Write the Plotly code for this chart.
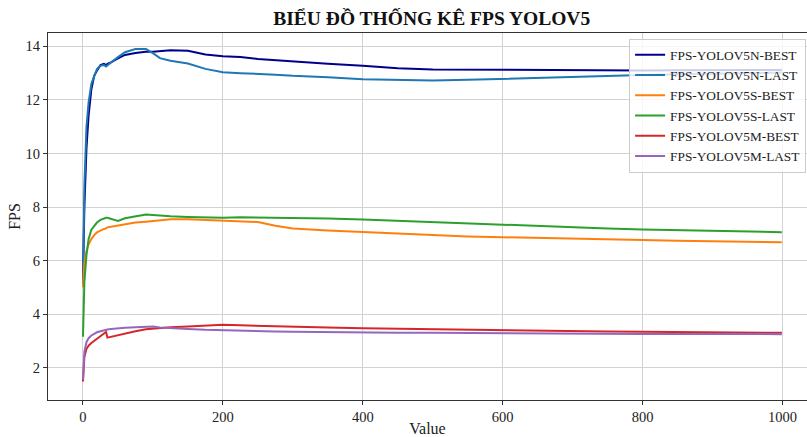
import plotly.graph_objects as go

# Frame index at which each running FPS value was recorded
frames = [0, 2, 5, 8, 12, 16, 20, 25, 30, 33, 35, 40, 50, 60, 75, 90, 100, 110, 125, 150,
          175, 200, 225, 250, 275, 300, 350, 400, 450, 500, 550, 600, 650, 700, 750, 800,
          850, 900, 950, 999]

fps_n_best = [5.3, 8.0, 10.2, 11.4, 12.4, 12.9, 13.1, 13.3, 13.35, 13.3, 13.35, 13.4, 13.55,
              13.68, 13.75, 13.8, 13.8, 13.83, 13.86, 13.84, 13.7, 13.63, 13.6, 13.53, 13.48,
              13.43, 13.35, 13.28, 13.18, 13.14, 13.13, 13.13, 13.12, 13.11, 13.1, 13.1,
              13.11, 13.12, 13.12, 13.12]
fps_n_last = [5.1, 8.8, 11.0, 11.9, 12.6, 12.9, 13.15, 13.28, 13.3, 13.25, 13.3, 13.4, 13.6,
              13.78, 13.9, 13.9, 13.75, 13.56, 13.46, 13.36, 13.16, 13.03, 13.0, 12.98, 12.94,
              12.9, 12.85, 12.77, 12.74, 12.73, 12.75, 12.79, 12.82, 12.87, 12.9, 12.93,
              12.96, 12.98, 13.0, 13.02]
fps_s_best = [5.0, 5.9, 6.35, 6.6, 6.8, 6.95, 7.05, 7.12, 7.18, 7.2, 7.24, 7.26, 7.3, 7.35,
              7.42, 7.45, 7.48, 7.52, 7.54, 7.54, 7.52, 7.5, 7.48, 7.44, 7.3, 7.2, 7.12, 7.06,
              7.0, 6.94, 6.9, 6.87, 6.85, 6.82, 6.8, 6.77, 6.74, 6.72, 6.7, 6.68]
fps_s_last = [3.15, 5.2, 6.2, 6.8, 7.15, 7.3, 7.42, 7.52, 7.58, 7.6, 7.6, 7.55, 7.48, 7.58,
              7.66, 7.72, 7.7, 7.68, 7.65, 7.63, 7.62, 7.6, 7.62, 7.61, 7.6, 7.6, 7.57, 7.53,
              7.48, 7.44, 7.38, 7.33, 7.28, 7.23, 7.2, 7.16, 7.13, 7.1, 7.08, 7.06]
fps_m_best = [1.48, 2.4, 2.7, 2.82, 2.92, 3.0, 3.05, 3.15, 3.25, 3.33, 3.12, 3.15, 3.22, 3.28,
              3.36, 3.43, 3.46, 3.48, 3.51, 3.54, 3.58, 3.6, 3.58, 3.56, 3.54, 3.52, 3.5, 3.47,
              3.45, 3.43, 3.41, 3.39, 3.38, 3.36, 3.35, 3.34, 3.33, 3.32, 3.31, 3.3]
fps_m_last = [1.55, 2.6, 2.95, 3.1, 3.2, 3.27, 3.32, 3.36, 3.4, 3.42, 3.42, 3.44, 3.47, 3.49,
              3.51, 3.53, 3.54, 3.5, 3.47, 3.44, 3.41, 3.39, 3.37, 3.36, 3.35, 3.34, 3.32,
              3.31, 3.3, 3.3, 3.29, 3.28, 3.28, 3.27, 3.27, 3.26, 3.26, 3.25, 3.25, 3.25]

series_names = ["FPS-YOLOV5N-BEST", "FPS-YOLOV5N-LAST", "FPS-YOLOV5S-BEST",
                "FPS-YOLOV5S-LAST", "FPS-YOLOV5M-BEST", "FPS-YOLOV5M-LAST"]
series_values = [fps_n_best, fps_n_last, fps_s_best, fps_s_last, fps_m_best, fps_m_last]
series_colors = ["#00008b", "#1f77b4", "#ff7f0e", "#2ca02c", "#d62728", "#9467bd"]

x_ticks = [0, 200, 400, 600, 800, 1000]
y_ticks = [2, 4, 6, 8, 10, 12, 14]

FONT = "Liberation Serif, Times New Roman, serif"

fig = go.Figure()
for name, vals, col in zip(series_names, series_values, series_colors):
    fig.add_trace(go.Scatter(x=frames, y=vals, mode="lines", name=name,
                             line=dict(color=col, width=2)))

axis_common = dict(
    showgrid=True, gridcolor="#d3d3d3", gridwidth=1,
    zeroline=False, showline=True, linecolor="#333333", linewidth=1,
    ticks="outside", ticklen=4, tickcolor="#333333",
    tickfont=dict(family=FONT, size=14.5, color="#222222"),
)

fig.update_layout(
    width=807, height=437,
    margin=dict(l=48, r=0, t=33, b=37, autoexpand=False),
    paper_bgcolor="white", plot_bgcolor="white",
    font=dict(family=FONT, color="#222222"),
    title=dict(text="<b>BIỂU ĐỒ THỐNG KÊ FPS YOLOV5</b>",
               font=dict(family=FONT, size=19.5, color="#111111"),
               x=0.535, xanchor="center", y=1 - 18 / 437, yanchor="middle",
               xref="container", yref="container"),
    xaxis=dict(range=[-50, 1035], tickvals=x_ticks, mirror=True,
               title=dict(text="Value", font=dict(family=FONT, size=16), standoff=2),
               **axis_common),
    yaxis=dict(range=[0.79, 14.5], tickvals=y_ticks, mirror=False,
               title=dict(text="FPS", font=dict(family=FONT, size=16), standoff=0),
               **axis_common),
    legend=dict(x=0.7656, y=0.985, xanchor="left", yanchor="top",
                bgcolor="rgba(255,255,255,0.8)", bordercolor="#cccccc", borderwidth=1,
                font=dict(family=FONT, size=13.3, color="#222222")),
    showlegend=True,
)

fig.write_html("out.html")
